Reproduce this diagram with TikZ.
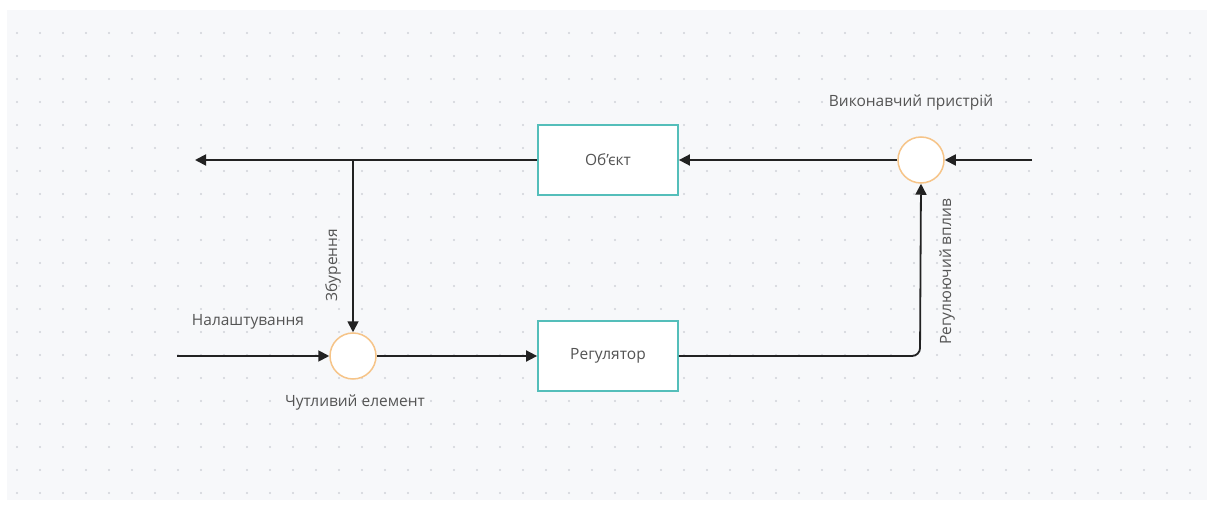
\documentclass[tikz,border=0pt]{standalone}
\usepackage{fontspec}
\setmainfont{Open Sans}
\usepackage{tikz}
\usetikzlibrary{arrows.meta, positioning}
\definecolor{myteal}{RGB}{84,190,186}
\definecolor{myorange}{RGB}{246,196,136}
\definecolor{mybg}{RGB}{247,248,250}
\definecolor{mydot}{RGB}{208,211,217}
\definecolor{mydark}{RGB}{34,34,34}
\definecolor{mytext}{RGB}{84,84,84}
\tikzset{
  block/.style={rectangle, draw=myteal, fill=white,
    minimum width=140pt, minimum height=70pt, line width=1.8pt,
    font=\fontsize{15.5}{18}\selectfont, text=mytext},
  sumjunc/.style={circle, draw=myorange, fill=white,
    minimum size=46pt, inner sep=0pt, line width=1.5pt},
  lbl/.style={font=\fontsize{15.5}{18}\selectfont, text=mytext, inner sep=0pt},
  arrow/.style={-{Triangle[length=11pt,width=11pt]}, line width=1.8pt, color=mydark},
  line/.style={line width=1.8pt, color=mydark}
}

\begin{document}
\begin{tikzpicture}[x=1pt, y=1pt]
  \useasboundingbox (0,0) rectangle (1211,515);

  % Background
  \fill[mybg] (7,15) rectangle (1207,505);
  \foreach \i in {0,...,51} {
    \foreach \j in {0,...,20} {
      \fill[mydot] (17+23*\i, 482-23*\j) circle (1.1pt);
    }
  }

  % Blocks
  \node[block] (object) at (608,355) {Об’єкт};
  \node[block] (regulator) at (608,159) {Регулятор};

  % Junctions
  \node[sumjunc] (actuator) at (921,355) {};
  \node[sumjunc] (sensor) at (353,159) {};

  % Free ends
  \coordinate (outEnd) at (195,355);
  \coordinate (inTop) at (1032,355);
  \coordinate (inLeft) at (177,159);
  \coordinate (branch) at (353,355);
  \coordinate (corner) at (920,159);

  % Paths
  \draw[arrow] (inTop) -- (actuator);
  \draw[arrow] (actuator) -- (object);
  \draw[arrow] (object) -- (outEnd);
  \draw[arrow] (branch) -- (sensor);
  \draw[arrow] (inLeft) -- (sensor);
  \draw[arrow] (sensor) -- (regulator);
  \draw[arrow, rounded corners=8pt] (regulator.east) -- (corner) -- (actuator.south);

  % Labels
  \node[lbl] (lblact) at (911,412) {Виконавчий пристрій};
  \node[lbl] (lblset) at (248,193) {Налаштування};
  \node[lbl] (lblsens) at (355,112) {Чутливий елемент};
  \node[lbl, rotate=90] (lbldist) at (333,250) {Збурення};
  \node[lbl, rotate=90] (lblctrl) at (947,243) {Регулюючий вплив};
\end{tikzpicture}
\end{document}
